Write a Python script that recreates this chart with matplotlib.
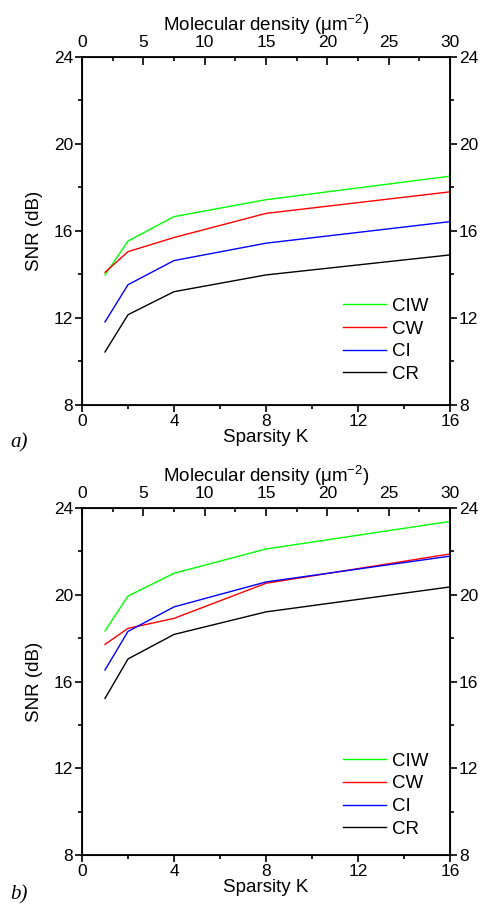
import matplotlib
matplotlib.use("Agg")
import matplotlib.pyplot as plt
from matplotlib.ticker import MultipleLocator

plt.rcParams['font.family'] = ['Liberation Sans', 'DejaVu Sans']

K = [1, 2, 4, 8, 16]
labels = ['CIW', 'CW', 'CI', 'CR']
colors = ['#00ff00', '#ff0000', '#0000ff', '#000000']

snr_a = {
    'CIW': [13.98, 15.54, 16.66, 17.44, 18.52],
    'CW': [14.10, 15.05, 15.70, 16.81, 17.80],
    'CI': [11.82, 13.53, 14.64, 15.44, 16.43],
    'CR': [10.44, 12.15, 13.21, 13.98, 14.90],
}
snr_b = {
    'CIW': [18.33, 19.94, 20.99, 22.11, 23.38],
    'CW': [17.71, 18.45, 18.91, 20.53, 21.88],
    'CI': [16.53, 18.31, 19.44, 20.59, 21.78],
    'CR': [15.22, 17.04, 18.17, 19.21, 20.36],
}

W, H = 480, 906
fig = plt.figure(figsize=(W / 100, H / 100), dpi=100)
fs = 13.5
fst = 12.5


def panel(top_px, bot_px, data, tag, tag_y, leg_y):
    hpx = bot_px - top_px
    ax = fig.add_axes([82 / W, 1 - bot_px / H, 368 / W, hpx / H])
    for lab, c in zip(labels, colors):
        ax.plot(K, data[lab], color=c, lw=1.0, label=lab)
    ax.set_xlim(0, 16)
    ax.set_ylim(8, 24)
    ax.xaxis.set_major_locator(MultipleLocator(4))
    ax.xaxis.set_minor_locator(MultipleLocator(2))
    ax.yaxis.set_major_locator(MultipleLocator(4))
    ax.yaxis.set_minor_locator(MultipleLocator(2))
    ax.tick_params(which='both', direction='out', width=1.2, labelsize=fst,
                   right=True, labelright=True, top=False, pad=1.5)
    ax.tick_params(which='major', length=5)
    ax.tick_params(which='minor', length=3)
    for s in ax.spines.values():
        s.set_linewidth(1.3)
    ax.set_xlabel('Sparsity K', fontsize=fs, labelpad=0)
    ax.set_ylabel('SNR (dB)', fontsize=fs)
    ax.yaxis.set_label_coords(-0.105, 0.5)

    ax2 = ax.twiny()
    ax2.set_xlim(0, 30)
    ax2.xaxis.set_major_locator(MultipleLocator(5))
    ax2.xaxis.set_minor_locator(MultipleLocator(2.5))
    ax2.tick_params(which='both', direction='in', width=1.2, labelsize=fst, pad=5)
    ax2.tick_params(which='major', length=6)
    ax2.tick_params(which='minor', length=3)
    ax2.set_xlabel('Molecular density ($\\mathregular{\\mu m^{-2}}$)', fontsize=fs, labelpad=3)

    ax.legend(loc='lower left', bbox_to_anchor=((343 - 82) / 368, leg_y / hpx),
              frameon=False, fontsize=fs, handlelength=2.3, handletextpad=0.32,
              labelspacing=0.3, borderaxespad=0, borderpad=0)
    fig.text(10 / W, 1 - tag_y / H, tag, fontsize=15, style='italic',
             family='Liberation Serif', va='center')
    return ax


panel(57, 405, snr_a, 'a)', 443, 22)
panel(508, 855, snr_b, 'b)', 895, 17)

fig.savefig('out.png', dpi=100)
